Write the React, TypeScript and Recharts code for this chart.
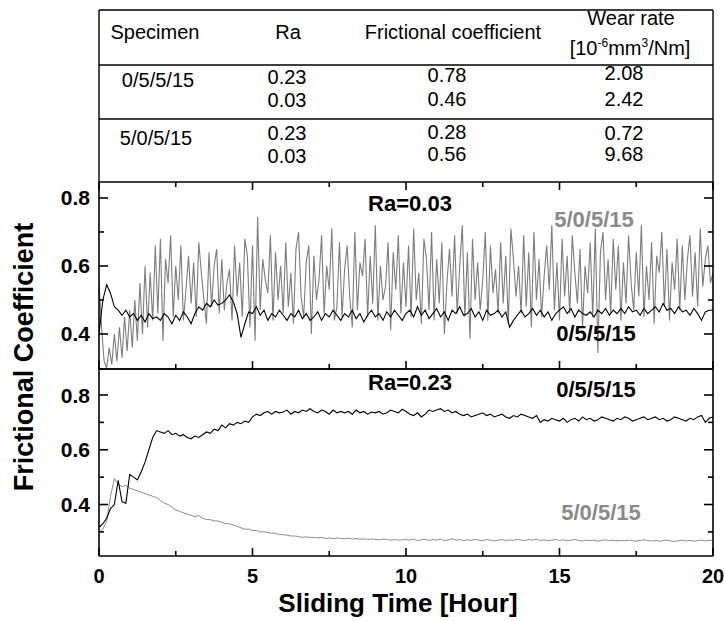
import React from 'react';
import { LineChart, Line, XAxis, YAxis } from 'recharts';

const FONT = '"Liberation Sans", Arial, Helvetica, sans-serif';

// x axis: sliding time in hours
const xTicks = [0, 2.5, 5, 7.5, 10, 12.5, 15, 17.5, 20];
const xMajor = [0, 5, 10, 15, 20];
const yTicksUpper = [0.4, 0.5, 0.6, 0.7, 0.8];
const yTicksLower = [0.3, 0.4, 0.5, 0.6, 0.7, 0.8];
const yMajor = [0.4, 0.6, 0.8];

// table contents
const tableHead = ['Specimen', 'Ra', 'Frictional coefficient'];
const specimens = ['0/5/5/15', '5/0/5/15'];
const raValues = [['0.23', '0.03'], ['0.23', '0.03']];
const fricValues = [['0.78', '0.46'], ['0.28', '0.56']];
const wearValues = [['2.08', '2.42'], ['0.72', '9.68']];

// Ra=0.03, 5/0/5/15 (sampled every 1/12 h)
const grayStep03 = 1 / 12;
const gray03 = [
  0.55, 0.42, 0.32, 0.30, 0.36, 0.31, 0.40, 0.32, 0.42, 0.33, 0.45, 0.35,
  0.47, 0.36, 0.50, 0.38, 0.55, 0.40, 0.60, 0.42, 0.58, 0.44, 0.66, 0.46,
  0.68, 0.38, 0.62, 0.55, 0.69, 0.45, 0.60, 0.50, 0.66, 0.44, 0.53, 0.63,
  0.49, 0.61, 0.45, 0.67, 0.58, 0.50, 0.43, 0.64, 0.48, 0.60, 0.65, 0.46,
  0.62, 0.47, 0.55, 0.59, 0.44, 0.66, 0.51, 0.61, 0.45, 0.68, 0.63, 0.42,
  0.66, 0.38, 0.745, 0.47, 0.62, 0.56, 0.52, 0.69, 0.44, 0.64, 0.50, 0.60,
  0.46, 0.67, 0.48, 0.58, 0.43, 0.65, 0.70, 0.51, 0.45, 0.61, 0.66, 0.40,
  0.63, 0.50, 0.56, 0.69, 0.46, 0.60, 0.53, 0.71, 0.44, 0.48, 0.67, 0.45,
  0.59, 0.66, 0.51, 0.42, 0.70, 0.47, 0.61, 0.57, 0.68, 0.45, 0.63, 0.49,
  0.72, 0.44, 0.60, 0.50, 0.54, 0.67, 0.41, 0.64, 0.53, 0.69, 0.46, 0.61,
  0.48, 0.66, 0.45, 0.71, 0.50, 0.58, 0.43, 0.68, 0.62, 0.47, 0.70, 0.44,
  0.62, 0.49, 0.67, 0.40, 0.55, 0.65, 0.51, 0.69, 0.46, 0.60, 0.72, 0.45,
  0.64, 0.385, 0.68, 0.50, 0.61, 0.47, 0.56, 0.70, 0.44, 0.66, 0.52, 0.59,
  0.46, 0.67, 0.49, 0.63, 0.43, 0.71, 0.62, 0.51, 0.60, 0.46, 0.69, 0.48,
  0.64, 0.42, 0.70, 0.50, 0.62, 0.45, 0.57, 0.66, 0.53, 0.72, 0.47, 0.61,
  0.44, 0.68, 0.51, 0.63, 0.46, 0.69, 0.58, 0.49, 0.65, 0.42, 0.60, 0.52,
  0.67, 0.45, 0.71, 0.344, 0.64, 0.70, 0.50, 0.62, 0.46, 0.68, 0.53, 0.66,
  0.44, 0.61, 0.49, 0.69, 0.55, 0.47, 0.64, 0.51, 0.72, 0.45, 0.60, 0.50,
  0.67, 0.43, 0.63, 0.58, 0.70, 0.48, 0.65, 0.44, 0.61, 0.53, 0.68, 0.47,
  0.66, 0.50, 0.62, 0.69, 0.51, 0.64, 0.48, 0.71, 0.54, 0.62, 0.66, 0.55,
  0.58,
];

// the other three series are sampled every 1/8 h
const step8 = 1 / 8;

// Ra=0.03, 0/5/5/15
const black03 = [
  0.40, 0.50, 0.545, 0.52, 0.48, 0.47, 0.455, 0.47,
  0.45, 0.46, 0.44, 0.455, 0.435, 0.46, 0.445, 0.45,
  0.44, 0.46, 0.45, 0.43, 0.455, 0.44, 0.465, 0.45,
  0.43, 0.46, 0.48, 0.47, 0.49, 0.48, 0.50, 0.485,
  0.49, 0.50, 0.515, 0.495, 0.46, 0.39, 0.43, 0.465,
  0.46, 0.48, 0.455, 0.47, 0.44, 0.46, 0.45, 0.47,
  0.455, 0.44, 0.46, 0.45, 0.47, 0.445, 0.46, 0.44,
  0.45, 0.465, 0.44, 0.46, 0.45, 0.47, 0.455, 0.44,
  0.46, 0.45, 0.47, 0.445, 0.46, 0.435, 0.455, 0.47,
  0.45, 0.46, 0.44, 0.465, 0.45, 0.47, 0.455, 0.44,
  0.46, 0.47, 0.45, 0.48, 0.455, 0.47, 0.445, 0.46,
  0.475, 0.45, 0.465, 0.44, 0.47, 0.46, 0.48, 0.455,
  0.46, 0.475, 0.45, 0.465, 0.44, 0.47, 0.455, 0.46,
  0.47, 0.45, 0.465, 0.42, 0.44, 0.455, 0.47, 0.45,
  0.46, 0.475, 0.455, 0.47, 0.45, 0.465, 0.44, 0.46,
  0.47, 0.48, 0.46, 0.475, 0.45, 0.47, 0.46, 0.455,
  0.465, 0.45, 0.47, 0.46, 0.475, 0.455, 0.47, 0.46,
  0.475, 0.46, 0.48, 0.465, 0.47, 0.455, 0.475, 0.46,
  0.47, 0.48, 0.465, 0.49, 0.47, 0.475, 0.46, 0.48,
  0.465, 0.47, 0.455, 0.475, 0.46, 0.44, 0.465, 0.47,
  0.47,
];

// Ra=0.23, 0/5/5/15
const black23 = [
  0.316, 0.33, 0.35, 0.385, 0.40, 0.488, 0.41, 0.405,
  0.51, 0.50, 0.49, 0.52, 0.555, 0.60, 0.645, 0.67,
  0.665, 0.66, 0.67, 0.655, 0.66, 0.65, 0.655, 0.645,
  0.64, 0.65, 0.645, 0.655, 0.665, 0.66, 0.675, 0.67,
  0.69, 0.68, 0.695, 0.69, 0.70, 0.695, 0.705, 0.70,
  0.72, 0.73, 0.725, 0.735, 0.74, 0.73, 0.74, 0.735,
  0.738, 0.745, 0.73, 0.74, 0.735, 0.745, 0.74, 0.75,
  0.74, 0.735, 0.745, 0.74, 0.73, 0.745, 0.735, 0.74,
  0.735, 0.74, 0.73, 0.745, 0.735, 0.74, 0.73, 0.738,
  0.735, 0.74, 0.73, 0.735, 0.745, 0.74, 0.735, 0.748,
  0.74, 0.73, 0.725, 0.735, 0.72, 0.73, 0.745, 0.74,
  0.745, 0.75, 0.74, 0.745, 0.735, 0.74, 0.73, 0.725,
  0.73, 0.72, 0.725, 0.73, 0.735, 0.725, 0.73, 0.72,
  0.725, 0.73, 0.72, 0.715, 0.725, 0.72, 0.73, 0.725,
  0.72, 0.715, 0.725, 0.70, 0.71, 0.705, 0.715, 0.71,
  0.705, 0.715, 0.70, 0.71, 0.715, 0.705, 0.72, 0.71,
  0.715, 0.705, 0.71, 0.72, 0.715, 0.71, 0.705, 0.715,
  0.71, 0.72, 0.715, 0.705, 0.71, 0.715, 0.72, 0.71,
  0.715, 0.72, 0.71, 0.715, 0.705, 0.71, 0.72, 0.715,
  0.71, 0.705, 0.715, 0.71, 0.72, 0.725, 0.70, 0.715,
  0.72,
];

// Ra=0.23, 5/0/5/15
const gray23 = [
  0.30, 0.31, 0.34, 0.43, 0.495, 0.475, 0.465, 0.47,
  0.46, 0.455, 0.45, 0.445, 0.44, 0.435, 0.43, 0.425,
  0.415, 0.405, 0.40, 0.39, 0.38, 0.375, 0.37, 0.365,
  0.36, 0.355, 0.36, 0.35, 0.345, 0.345, 0.34, 0.34,
  0.335, 0.33, 0.33, 0.325, 0.32, 0.315, 0.31, 0.31,
  0.305, 0.305, 0.30, 0.30, 0.298, 0.295, 0.295, 0.29,
  0.29, 0.288, 0.285, 0.285, 0.283, 0.28, 0.282, 0.28,
  0.28, 0.278, 0.28, 0.276, 0.278, 0.275, 0.278, 0.276,
  0.275, 0.277, 0.274, 0.276, 0.273, 0.275, 0.272, 0.274,
  0.273, 0.271, 0.274, 0.272, 0.27, 0.272, 0.27, 0.271,
  0.272, 0.27, 0.274, 0.268, 0.271, 0.273, 0.269, 0.272,
  0.27, 0.274, 0.268, 0.271, 0.275, 0.27, 0.272, 0.268,
  0.271, 0.269, 0.273, 0.27, 0.268, 0.272, 0.27, 0.267,
  0.27, 0.272, 0.268, 0.271, 0.269, 0.273, 0.27, 0.268,
  0.272, 0.27, 0.274, 0.269, 0.271, 0.268, 0.27, 0.272,
  0.269, 0.271, 0.268, 0.27, 0.272, 0.269, 0.267, 0.27,
  0.268, 0.27, 0.266, 0.269, 0.271, 0.268, 0.27, 0.267,
  0.269, 0.267, 0.27, 0.268, 0.266, 0.269, 0.271, 0.268,
  0.267, 0.269, 0.266, 0.268, 0.27, 0.267, 0.265, 0.268,
  0.27, 0.267, 0.269, 0.266, 0.268, 0.27, 0.267, 0.269,
  0.27,
];

const toPoints = (vals: number[], step: number) => vals.map((v, i) => ({ t: i * step, v }));

const AX = { stroke: '#000', strokeWidth: 1.6 };
const GRAY_LINE = '#7d7d7d';
const GRAY_TEXT = '#8a8a8a';

const isMajorY = (v: number) => yMajor.some((m) => Math.abs(m - v) < 1e-6);
const isMajorX = (v: number) => xMajor.includes(v);

const leftTick = (labels: boolean) => (props: any) => {
  const { x, y, payload } = props;
  const major = isMajorY(payload.value);
  return (
    <g>
      <line x1={x} x2={x + (major ? 9 : 5)} y1={y} y2={y} stroke="#000" strokeWidth={1.6} />
      {labels && major && (
        <text x={x - 9} y={y + 7.5} textAnchor="end" fontSize={21} fontWeight="bold" fontFamily={FONT} fill="#000">
          {payload.value.toFixed(1)}
        </text>
      )}
    </g>
  );
};

const rightTick = (props: any) => {
  const { x, y, payload } = props;
  const major = isMajorY(payload.value);
  return <line x1={x} x2={x - (major ? 9 : 5)} y1={y} y2={y} stroke="#000" strokeWidth={1.6} />;
};

const bottomTick = (labels: boolean) => (props: any) => {
  const { x, y, payload } = props;
  const major = isMajorX(payload.value);
  return (
    <g>
      <line x1={x} x2={x} y1={y} y2={y - (major ? 8 : 5)} stroke="#000" strokeWidth={1.6} />
      {labels && major && (
        <text x={x} y={y + 27} textAnchor="middle" fontSize={20} fontWeight="bold" fontFamily={FONT} fill="#000">
          {payload.value}
        </text>
      )}
    </g>
  );
};

const topTick = (props: any) => {
  const { x, y, payload } = props;
  const major = isMajorX(payload.value);
  return <line x1={x} x2={x} y1={y} y2={y + (major ? 8 : 5)} stroke="#000" strokeWidth={1.6} />;
};

const Label = ({ x, y, text, color = '#000' }: { x: number; y: number; text: string; color?: string }) => (
  <text x={x} y={y} textAnchor="middle" fontSize={22} fontWeight="bold" fontFamily={FONT} fill={color}>
    {text}
  </text>
);

const Cell = ({ x, y, text }: { x: number; y: number; text: string }) => (
  <text x={x} y={y} textAnchor="middle" fontSize={20} fontFamily={FONT} fill="#000">
    {text}
  </text>
);

const UPPER_DOMAIN: [number, number] = [0.297, 0.847];
const LOWER_DOMAIN: [number, number] = [0.212, 0.895];

export default function App() {
  const g03 = toPoints(gray03, grayStep03);
  const b03 = toPoints(black03, step8);
  const b23 = toPoints(black23, step8);
  const g23 = toPoints(gray23, step8);

  const rowY = [[84, 107], [140, 163]];
  const fricY = [[82, 106], [139, 161]];
  const wearY = [[80, 106], [140, 161]];

  return (
    <div style={{ position: 'absolute', left: 0, top: 0, width: 725, height: 621, background: '#fff', overflow: 'hidden' }}>
      {/* Ra = 0.03 panel */}
      <div style={{ position: 'absolute', left: 0, top: 0 }}>
        <LineChart width={725} height={380} margin={{ top: 181, right: 11, bottom: 10, left: 39 }}>
          <XAxis xAxisId="b" dataKey="t" type="number" domain={[0, 20]} ticks={xTicks} interval={0}
            allowDataOverflow height={1} axisLine={AX} tickLine={false} tickSize={0} tickMargin={0} tick={bottomTick(false)} />
          <XAxis xAxisId="top" orientation="top" dataKey="t" type="number" domain={[0, 20]} ticks={xTicks} interval={0}
            allowDataOverflow height={1} axisLine={AX} tickLine={false} tickSize={0} tickMargin={0} tick={topTick} />
          <YAxis yAxisId="l" type="number" domain={UPPER_DOMAIN} ticks={yTicksUpper} interval={0} allowDataOverflow
            width={60} axisLine={AX} tickLine={false} tickSize={0} tickMargin={0} tick={leftTick(true)} />
          <YAxis yAxisId="r" orientation="right" type="number" domain={UPPER_DOMAIN} ticks={yTicksUpper} interval={0}
            allowDataOverflow width={1} axisLine={AX} tickLine={false} tickSize={0} tickMargin={0} tick={rightTick} />
          <Line xAxisId="b" yAxisId="l" data={g03} dataKey="v" type="linear" stroke={GRAY_LINE} strokeWidth={1.1}
            dot={false} isAnimationActive={false} />
          <Line xAxisId="b" yAxisId="l" data={b03} dataKey="v" type="linear" stroke="#000" strokeWidth={1.1}
            dot={false} isAnimationActive={false} />
        </LineChart>
      </div>

      {/* Ra = 0.23 panel */}
      <div style={{ position: 'absolute', left: 0, top: 0 }}>
        <LineChart width={725} height={621} margin={{ top: 368, right: 11, bottom: 5, left: 39 }}>
          <XAxis xAxisId="b" dataKey="t" type="number" domain={[0, 20]} ticks={xTicks} interval={0}
            allowDataOverflow height={60} axisLine={AX} tickLine={false} tickSize={0} tickMargin={0} tick={bottomTick(true)} />
          <XAxis xAxisId="top" orientation="top" dataKey="t" type="number" domain={[0, 20]} ticks={xTicks} interval={0}
            allowDataOverflow height={1} axisLine={AX} tickLine={false} tick={false} />
          <YAxis yAxisId="l" type="number" domain={LOWER_DOMAIN} ticks={yTicksLower} interval={0} allowDataOverflow
            width={60} axisLine={AX} tickLine={false} tickSize={0} tickMargin={0} tick={leftTick(true)} />
          <YAxis yAxisId="r" orientation="right" type="number" domain={LOWER_DOMAIN} ticks={yTicksLower} interval={0}
            allowDataOverflow width={1} axisLine={AX} tickLine={false} tickSize={0} tickMargin={0} tick={rightTick} />
          <Line xAxisId="b" yAxisId="l" data={g23} dataKey="v" type="linear" stroke="#8c8c8c" strokeWidth={1}
            dot={false} isAnimationActive={false} />
          <Line xAxisId="b" yAxisId="l" data={b23} dataKey="v" type="linear" stroke="#000" strokeWidth={1.1}
            dot={false} isAnimationActive={false} />
        </LineChart>
      </div>

      {/* table, annotations and axis titles */}
      <svg width={725} height={621} style={{ position: 'absolute', left: 0, top: 0, pointerEvents: 'none' }}>
        <g stroke="#000" strokeWidth={1.4}>
          <line x1={99} y1={10} x2={713} y2={10} />
          <line x1={99} y1={10} x2={99} y2={183} />
          <line x1={713} y1={10} x2={713} y2={183} />
          <line x1={99} y1={65} x2={713} y2={65} />
          <line x1={99} y1={119} x2={713} y2={119} />
        </g>
        <Cell x={155} y={39} text={tableHead[0]} />
        <Cell x={288} y={39} text={tableHead[1]} />
        <Cell x={453} y={39} text={tableHead[2]} />
        <Cell x={631} y={25} text="Wear rate" />
        <text x={630} y={55} textAnchor="middle" fontSize={20} fontFamily={FONT} fill="#000">
          [10<tspan fontSize={12} dy={-8}>-6</tspan>
          <tspan dy={8}>mm</tspan>
          <tspan fontSize={12} dy={-8}>3</tspan>
          <tspan dy={8}>/Nm]</tspan>
        </text>
        {specimens.map((s, gi) => (
          <g key={s}>
            <Cell x={gi === 0 ? 158 : 156} y={gi === 0 ? 87 : 145} text={s} />
            {raValues[gi].map((r, ri) => <Cell key={'r' + ri} x={287} y={rowY[gi][ri]} text={r} />)}
            {fricValues[gi].map((f, ri) => <Cell key={'f' + ri} x={447} y={fricY[gi][ri]} text={f} />)}
            {wearValues[gi].map((w, ri) => <Cell key={'w' + ri} x={624} y={wearY[gi][ri]} text={w} />)}
          </g>
        ))}

        <Label x={410} y={211} text="Ra=0.03" />
        <Label x={594} y={227} text="5/0/5/15" color={GRAY_TEXT} />
        <Label x={596} y={341} text="0/5/5/15" />
        <Label x={410} y={390} text="Ra=0.23" />
        <Label x={596} y={397} text="0/5/5/15" />
        <Label x={601} y={520} text="5/0/5/15" color={GRAY_TEXT} />

        <text x={398} y={612} textAnchor="middle" fontSize={26} fontWeight="bold" fontFamily={FONT} fill="#000">
          Sliding Time [Hour]
        </text>
        <text x={33} y={357} transform="rotate(-90 33 357)" textAnchor="middle" fontSize={27} fontWeight="bold"
          fontFamily={FONT} fill="#000">
          Frictional Coefficient
        </text>
      </svg>
    </div>
  );
}
